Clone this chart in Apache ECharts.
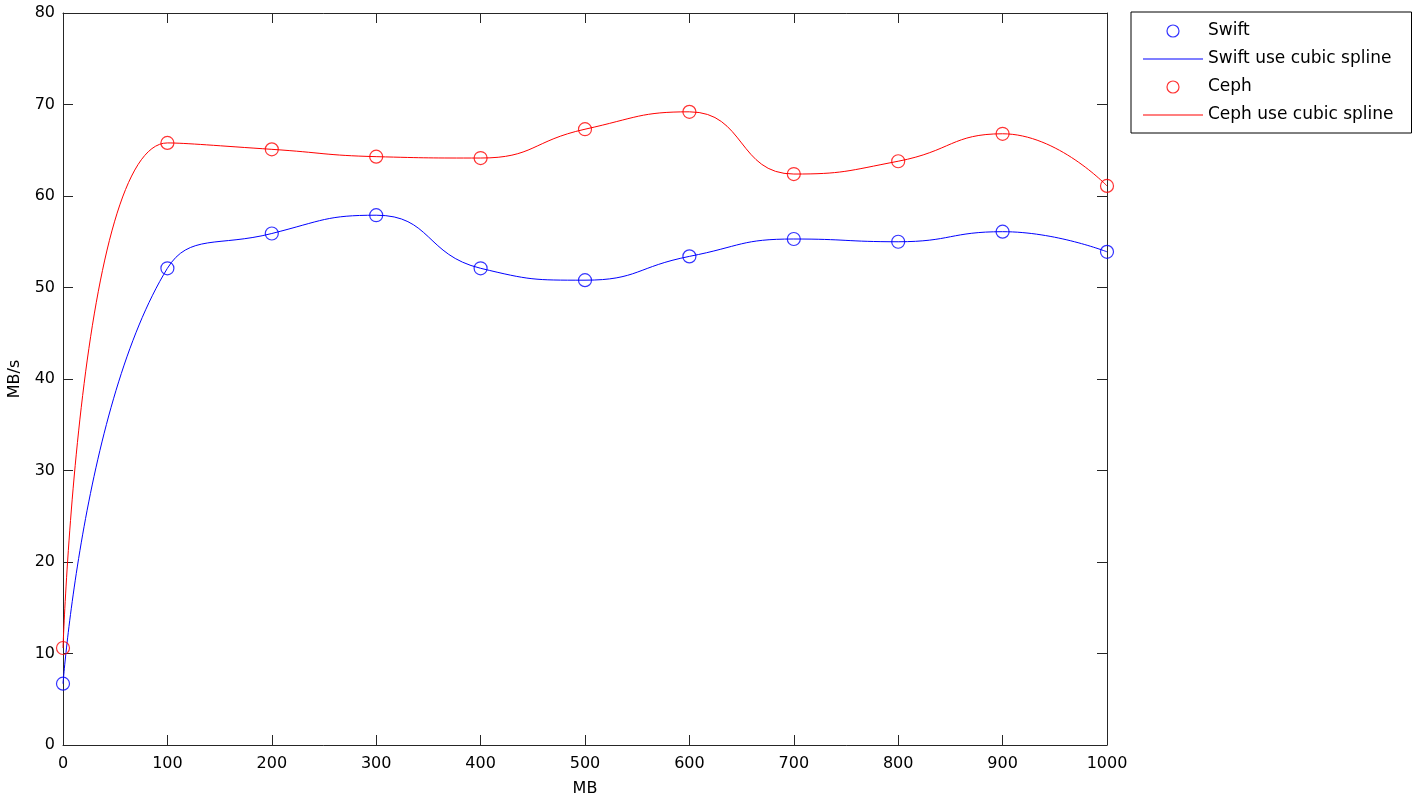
<!DOCTYPE html>
<html>
<head>
<meta charset="utf-8">
<script src="https://cdn.jsdelivr.net/npm/echarts@6/dist/echarts.min.js"></script>
<style>html,body{margin:0;padding:0;background:#fff;}#c{width:1418px;height:799px;}</style>
</head>
<body>
<div id="c"></div>
<script>
var sizesMB = [0, 100, 200, 300, 400, 500, 600, 700, 800, 900, 1000];
var swiftMBs = [6.7, 52.1, 55.9, 57.9, 52.1, 50.8, 53.4, 55.3, 55.0, 56.1, 53.9];
var cephMBs = [10.6, 65.8, 65.1, 64.3, 64.15, 67.3, 69.2, 62.4, 63.8, 66.8, 61.1];
var seriesNames = ['Swift', 'Swift use cubic spline', 'Ceph', 'Ceph use cubic spline'];

function pairs(xs, ys) { return xs.map(function (x, i) { return [x, ys[i]]; }); }

var FONT = 'DejaVu Sans, sans-serif';
var AX = '#262626';
var chart = echarts.init(document.getElementById('c'), null, { renderer: 'canvas' });

function mkX(pos, show) {
  return {
    type: 'value', position: pos, min: 0, max: 1000, interval: 100,
    axisLine: { show: true, onZero: false, lineStyle: { color: AX, width: 1 } },
    axisTick: { show: true, inside: true, length: 10, lineStyle: { color: AX } },
    axisLabel: { show: show, color: '#000', fontSize: 16, fontFamily: FONT, margin: 11,
      formatter: function (v) { return String(v); } },
    splitLine: { show: false },
    name: show ? 'MB' : '', nameLocation: 'middle', nameGap: 36,
    nameTextStyle: { color: '#000', fontSize: 16, fontFamily: FONT }
  };
}
function mkY(pos, show) {
  return {
    type: 'value', position: pos, min: 0, max: 80, interval: 10,
    axisLine: { show: true, onZero: false, lineStyle: { color: AX, width: 1 } },
    axisTick: { show: true, inside: true, length: 10, lineStyle: { color: AX } },
    axisLabel: { show: show, color: '#000', fontSize: 16, fontFamily: FONT, margin: 8,
      formatter: function (v) { return String(v); } },
    splitLine: { show: false },
    name: show ? 'MB/s' : '', nameLocation: 'middle', nameGap: 40, nameRotate: 90,
    nameTextStyle: { color: '#000', fontSize: 16, fontFamily: FONT }
  };
}

var hollow = function (c) { return { color: 'rgba(0,0,0,0)', borderColor: c, borderWidth: 1.2 }; };
var linePath = 'path://M0,0H60V1H0Z';

chart.setOption({
  animation: false,
  backgroundColor: '#fff',
  grid: { left: 63, right: 311, top: 13, bottom: 54, containLabel: false, outerBoundsMode: 'none' },
  xAxis: [mkX('bottom', true), mkX('top', false)],
  yAxis: [mkY('left', true), mkY('right', false)],
  legend: {
    orient: 'vertical', left: 1131, top: 12,
    padding: [9, 18, 8, 12],
    itemWidth: 60, itemHeight: 12, itemGap: 8,
    borderColor: '#000', borderWidth: 1, backgroundColor: '#fff',
    textStyle: { color: '#000', fontSize: 17, fontFamily: FONT, lineHeight: 20 },
    data: [
      { name: seriesNames[0], icon: 'circle', itemStyle: { color: '#fff', borderColor: '#0000ff', borderWidth: 1.2 } },
      { name: seriesNames[1], icon: linePath, itemStyle: { color: '#0000ff', borderColor: '#0000ff', borderWidth: 0 } },
      { name: seriesNames[2], icon: 'circle', itemStyle: { color: '#fff', borderColor: '#ff0000', borderWidth: 1.2 } },
      { name: seriesNames[3], icon: linePath, itemStyle: { color: '#ff0000', borderColor: '#ff0000', borderWidth: 0 } }
    ]
  },
  series: [
    { name: seriesNames[1], type: 'line', data: pairs(sizesMB, swiftMBs), smooth: 0.5, showSymbol: false,
      lineStyle: { color: '#0000ff', width: 1 }, itemStyle: { color: '#0000ff' } },
    { name: seriesNames[3], type: 'line', data: pairs(sizesMB, cephMBs), smooth: 0.5, showSymbol: false,
      lineStyle: { color: '#ff0000', width: 1 }, itemStyle: { color: '#ff0000' } },
    { name: seriesNames[0], type: 'scatter', data: pairs(sizesMB, swiftMBs), symbol: 'circle', symbolSize: 13,
      itemStyle: hollow('#0000ff'), z: 3 },
    { name: seriesNames[2], type: 'scatter', data: pairs(sizesMB, cephMBs), symbol: 'circle', symbolSize: 13,
      itemStyle: hollow('#ff0000'), z: 3 }
  ]
});
</script>
</body>
</html>
